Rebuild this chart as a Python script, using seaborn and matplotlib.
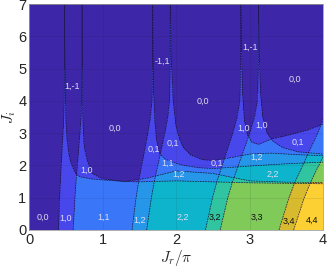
import numpy as np
import matplotlib
matplotlib.use("Agg")
import matplotlib.pyplot as plt
from matplotlib.colors import ListedColormap
import seaborn as sns

# phase boundaries
# family A: near-vertical lines, J_r/pi given at each J_i
a_y = [0, 0.5, 1, 1.5, 2, 2.5, 3, 3.5, 4, 5, 7]
a_x = {
    0.4: [0.40, 0.408, 0.416, 0.426, 0.438, 0.450, 0.462, 0.472, 0.478, 0.480, 0.480],
    0.6: [0.60, 0.612, 0.624, 0.639, 0.657, 0.675, 0.693, 0.708, 0.717, 0.720, 0.720],
    1.4: [1.40, 1.428, 1.456, 1.491, 1.533, 1.575, 1.617, 1.652, 1.673, 1.680, 1.680],
    1.6: [1.60, 1.632, 1.664, 1.704, 1.752, 1.800, 1.848, 1.888, 1.912, 1.920, 1.920],
    2.4: [2.40, 2.448, 2.496, 2.556, 2.628, 2.700, 2.772, 2.832, 2.868, 2.880, 2.880],
    2.6: [2.60, 2.652, 2.704, 2.769, 2.847, 2.925, 3.003, 3.068, 3.107, 3.120, 3.120],
    3.4: [3.40, 3.468, 3.536, 3.621, 3.723, 3.825, 3.927, 4.012, 4.063, 4.080, 4.080],
    3.6: [3.60, 3.672, 3.744, 3.834, 3.942, 4.050, 4.158, 4.248, 4.302, 4.320, 4.320],
}
# winding change (d_nu0, d_nupi) when crossing left -> right
a_step = {0.4: (1, 0), 0.6: (0, 1), 1.4: (0, 1), 1.6: (1, 0),
          2.4: (1, 0), 2.6: (0, 1), 3.4: (0, 1), 3.6: (1, 0)}

# family B: curves hanging from the cusps, J_i given at each J_r/pi
# (x list, y list, winding change when crossing upwards)
b_curves = [
    ([0.482, 0.486, 0.492, 0.50, 0.515, 0.54, 0.57, 0.61, 0.645, 0.70, 0.85, 1.0, 1.3, 1.6, 2.0, 2.5, 3.0, 3.5, 4.0],
     [7.0, 5.5, 4.2, 3.4, 2.8, 2.35, 2.07, 1.85, 1.72, 1.64, 1.58, 1.55, 1.50, 1.60, 1.83, 1.75, 1.52, 1.48, 1.47],
     (0, -1)),
    ([0.722, 0.725, 0.728, 0.735, 0.745, 0.765, 0.79, 0.85, 0.95, 1.04, 1.31, 1.5, 2.0, 2.5, 3.0, 4.0],
     [7.0, 5.0, 3.7, 3.2, 2.7, 2.4, 2.17, 1.77, 1.63, 1.57, 1.50, 1.49, 1.52, 1.49, 1.46, 1.43],
     (-1, 0)),
    ([1.682, 1.686, 1.695, 1.71, 1.73, 1.755, 1.78, 1.85, 1.95, 2.1, 2.3, 2.5, 3.0, 3.5, 4.0],
     [7.0, 5.5, 4.2, 3.4, 2.85, 2.55, 2.35, 2.2, 2.1, 2.0, 1.93, 1.90, 1.98, 2.05, 2.10],
     (-1, 0)),
    ([1.922, 1.93, 1.96, 2.0, 2.05, 2.1, 2.2, 2.35, 2.5, 2.7, 3.0, 3.3, 3.66, 4.0],
     [7.0, 5.5, 4.0, 3.2, 2.8, 2.55, 2.32, 2.18, 2.15, 2.22, 2.35, 2.38, 2.33, 2.30],
     (0, -1)),
    ([2.882, 2.89, 2.905, 2.93, 2.97, 3.03, 3.12, 3.3, 3.5, 3.8, 4.0],
     [7.0, 5.5, 4.2, 3.4, 2.95, 2.72, 2.65, 2.82, 2.92, 3.1, 3.28],
     (0, -1)),
    ([3.122, 3.13, 3.15, 3.18, 3.24, 3.32, 3.45, 3.66, 4.0],
     [7.0, 5.5, 4.2, 3.5, 3.0, 2.75, 2.55, 2.42, 2.35],
     (-1, 0)),
]

labels = ["0,0", "1,0", "1,1", "1,2", "2,2", "3,2", "3,3", "3,4", "4,4",
          "1,0", "0,0", "1,-1", "-1,1", "1,-1", "0,0", "0,0",
          "0,1", "0,1", "1,1", "1,2", "0,1", "1,2", "2,2", "0,1", "1,0", "1,0"]
label_x = [0.19, 0.50, 1.02, 1.50, 2.09, 2.53, 3.10, 3.53, 3.85,
           0.78, 1.17, 0.58, 1.81, 3.01, 2.37, 3.61,
           1.70, 1.96, 1.88, 2.03, 2.56, 3.09, 3.31, 3.66, 2.92, 3.17]
label_y = [0.39, 0.36, 0.38, 0.31, 0.39, 0.40, 0.39, 0.26, 0.31,
           1.86, 3.16, 4.46, 5.21, 5.67, 4.00, 4.67,
           2.50, 2.68, 2.06, 1.72, 2.05, 2.24, 1.73, 2.70, 3.15, 3.25]

# fill colour for nu0 + nupi = 0 .. 9 (parula steps)
parula = ["#3e26a8", "#4747eb", "#3a76f8", "#2596e8", "#0db4cb", "#30c4a0",
          "#80ca5a", "#d8ba2e", "#fccf32", "#f9fb0e"]

sns.set_theme(style="white")
plt.rcParams["font.family"] = ["Liberation Sans", "DejaVu Sans"]
plt.rcParams["mathtext.fontset"] = "cm"

xs = np.linspace(0, 4, 801)
ys = np.linspace(0, 7, 701)
X, Y = np.meshgrid(xs, ys)
nu0 = np.zeros_like(X)
nupi = np.zeros_like(X)
for x0, step in a_step.items():
    right = X > np.interp(Y, a_y, a_x[x0])
    nu0 += step[0] * right
    nupi += step[1] * right
for bx, by, step in b_curves:
    above = (X > bx[0]) & (Y > np.interp(X, bx, by))
    nu0 += step[0] * above
    nupi += step[1] * above
total = np.clip(nu0 + nupi, 0, 9)

fig = plt.figure(figsize=(3.27, 2.68), dpi=100)
ax = fig.add_axes([0.089, 0.142, 0.899, 0.843])
ax.imshow(total, origin="lower", extent=[0, 4, 0, 7], aspect="auto",
          cmap=ListedColormap(parula), vmin=-0.5, vmax=9.5, interpolation="nearest")

line_kw = dict(color="#15153a", lw=0.5, ls=(0, (2.5, 1.2)))
for x0 in a_step:
    ax.plot(a_x[x0], a_y, **line_kw)
for bx, by, step in b_curves:
    ax.plot(bx, by, **line_kw)

for t, lx, ly in zip(labels, label_x, label_y):
    dark = t in ("3,2", "3,3", "3,4", "4,4")
    ax.text(lx, ly, t, fontsize=6.5, ha="center", va="center",
            color="#111111" if dark else "#dcdcf2")

ax.set_xlim(0, 4)
ax.set_ylim(0, 7)
ax.set_xticks(range(5))
ax.set_yticks(range(8))
ax.tick_params(labelsize=10.5, length=0, pad=2, colors="#262626")
ax.grid(True, color="k", alpha=0.12, lw=0.5)
ax.set_axisbelow(False)
for sp in ax.spines.values():
    sp.set_color("#a0a0a0")
    sp.set_linewidth(0.6)
ax.set_xlabel(r"$J_r/\pi$", fontsize=11, labelpad=1)
ax.set_ylabel(r"$J_i$", fontsize=11, labelpad=0)

fig.savefig("out.png", dpi=100)
